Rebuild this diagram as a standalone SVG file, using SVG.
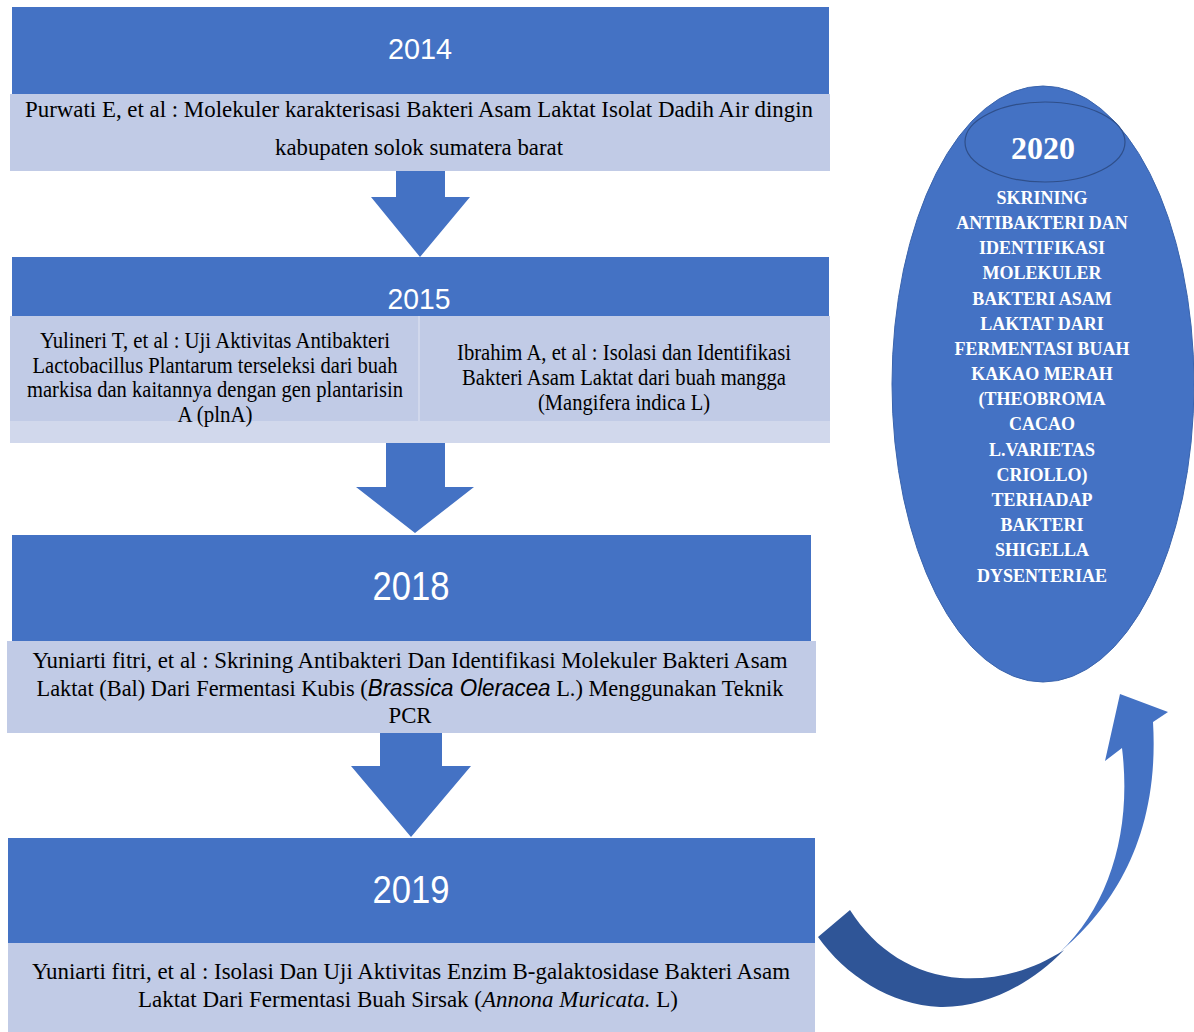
<svg xmlns="http://www.w3.org/2000/svg" width="1194" height="1032" viewBox="0 0 1194 1032">
<style>
.hdr{fill:#4472c4}
.body{fill:#c1cbe6}
.band{fill:#d1d8ec}
.yr{font-family:"Liberation Sans",Arial,sans-serif;fill:#ffffff;text-anchor:middle}
.t{font-family:"Liberation Serif","Times New Roman",serif;font-size:23px;fill:#000000;text-anchor:middle}
.it{font-family:"Liberation Sans",Arial,sans-serif;font-style:italic}
.its{font-style:italic}
.el{font-family:"Liberation Serif","Times New Roman",serif;font-weight:bold;fill:#ffffff;text-anchor:middle}
.arr{fill:#4472c4}
.dark{fill:#2f5597}
</style>
<rect width="1194" height="1032" fill="#ffffff"/>

<g id="node-2014">
<rect class="hdr" x="12" y="7" width="817" height="87"/>
<rect class="body" x="10" y="94" width="820" height="77"/>
<text class="yr" x="420" y="59" font-size="29" textLength="64" lengthAdjust="spacingAndGlyphs">2014</text>
<text class="t" x="419" y="117" textLength="788" lengthAdjust="spacingAndGlyphs">Purwati E, et al : Molekuler karakterisasi Bakteri Asam Laktat Isolat Dadih Air dingin</text>
<text class="t" x="419" y="155" textLength="288" lengthAdjust="spacingAndGlyphs">kabupaten solok sumatera barat</text>
</g>

<g id="node-2015">
<rect class="hdr" x="12" y="257" width="817" height="59"/>
<rect class="band" x="10" y="316" width="820" height="127"/>
<rect class="body" x="10" y="316" width="408" height="105"/>
<rect class="body" x="420" y="316" width="410" height="105"/>
<text class="yr" x="419" y="309" font-size="30" textLength="63" lengthAdjust="spacingAndGlyphs">2015</text>
<text class="t" x="215" y="348" textLength="350" lengthAdjust="spacingAndGlyphs">Yulineri T, et al : Uji Aktivitas Antibakteri</text>
<text class="t" x="215" y="373" textLength="365" lengthAdjust="spacingAndGlyphs">Lactobacillus Plantarum terseleksi dari buah</text>
<text class="t" x="215" y="397" textLength="376" lengthAdjust="spacingAndGlyphs">markisa dan kaitannya dengan gen plantarisin</text>
<text class="t" x="215" y="422" textLength="75" lengthAdjust="spacingAndGlyphs">A (plnA)</text>
<text class="t" x="624" y="360" textLength="334" lengthAdjust="spacingAndGlyphs">Ibrahim A, et al : Isolasi dan Identifikasi</text>
<text class="t" x="624" y="385" textLength="324" lengthAdjust="spacingAndGlyphs">Bakteri Asam Laktat dari buah mangga</text>
<text class="t" x="624" y="410" textLength="172" lengthAdjust="spacingAndGlyphs">(Mangifera indica L)</text>
</g>

<g id="node-2018">
<rect class="hdr" x="12" y="535" width="799" height="106"/>
<rect class="body" x="7" y="641" width="809" height="92"/>
<text class="yr" x="411" y="600" font-size="40" textLength="77" lengthAdjust="spacingAndGlyphs">2018</text>
<text class="t" x="410" y="668" textLength="755" lengthAdjust="spacingAndGlyphs">Yuniarti fitri, et al : Skrining Antibakteri Dan Identifikasi Molekuler Bakteri Asam</text>
<text class="t" x="410" y="696" textLength="747" lengthAdjust="spacingAndGlyphs">Laktat (Bal) Dari Fermentasi Kubis (<tspan class="it">Brassica Oleracea</tspan> L.) Menggunakan Teknik</text>
<text class="t" x="410" y="723" textLength="43" lengthAdjust="spacingAndGlyphs">PCR</text>
</g>

<g id="node-2019">
<rect class="hdr" x="8" y="838" width="807" height="105"/>
<rect class="body" x="8" y="943" width="807" height="89"/>
<text class="yr" x="411" y="903" font-size="39" textLength="77" lengthAdjust="spacingAndGlyphs">2019</text>
<text class="t" x="411" y="979" textLength="758" lengthAdjust="spacingAndGlyphs">Yuniarti fitri, et al : Isolasi Dan Uji Aktivitas Enzim B-galaktosidase Bakteri Asam</text>
<text class="t" x="408" y="1007" textLength="540" lengthAdjust="spacingAndGlyphs">Laktat Dari Fermentasi Buah Sirsak (<tspan class="its">Annona Muricata.</tspan> L)</text>
</g>

<g id="node-2020">
<ellipse cx="1043" cy="384" rx="151" ry="298" fill="#4472c4" stroke="#3a64ad" stroke-width="1"/>
<ellipse cx="1045" cy="142" rx="80" ry="40" fill="#4472c4" stroke="#2f4f8a" stroke-width="1.2"/>
<text class="el" x="1043" y="159" font-size="32">2020</text>
<g class="el" font-size="18">
<text x="1042" y="204">SKRINING</text>
<text x="1042" y="229">ANTIBAKTERI DAN</text>
<text x="1042" y="254">IDENTIFIKASI</text>
<text x="1042" y="279">MOLEKULER</text>
<text x="1042" y="305">BAKTERI ASAM</text>
<text x="1042" y="330">LAKTAT DARI</text>
<text x="1042" y="355">FERMENTASI BUAH</text>
<text x="1042" y="380">KAKAO MERAH</text>
<text x="1042" y="405">(THEOBROMA</text>
<text x="1042" y="430">CACAO</text>
<text x="1042" y="456">L.VARIETAS</text>
<text x="1042" y="481">CRIOLLO)</text>
<text x="1042" y="506">TERHADAP</text>
<text x="1042" y="531">BAKTERI</text>
<text x="1042" y="556">SHIGELLA</text>
<text x="1042" y="582">DYSENTERIAE</text>
</g>
</g>

<g id="connectors">
<polygon class="arr" points="396,171 445,171 445,197 470,197 420,257 371,197 396,197"/>
<polygon class="arr" points="386,443 445,443 445,487 474,487 415,533 356,487 386,487"/>
<polygon class="arr" points="380,733 442,733 442,766 471,766 411,837 351,766 380,766"/>
<path class="dark" d="M818 937 C845 975 890 1005 940 1007 C985 1008 1030 985 1064 950 C1030 972 995 980 960 978 C915 975 875 950 850 910 Z"/>
<path class="arr" d="M1060 952 C1110 910 1160 840 1153 722 L1168 712 L1120 694 L1105 761 L1122 748 C1132 830 1110 905 1060 952 Z"/>
</g>
</svg>
